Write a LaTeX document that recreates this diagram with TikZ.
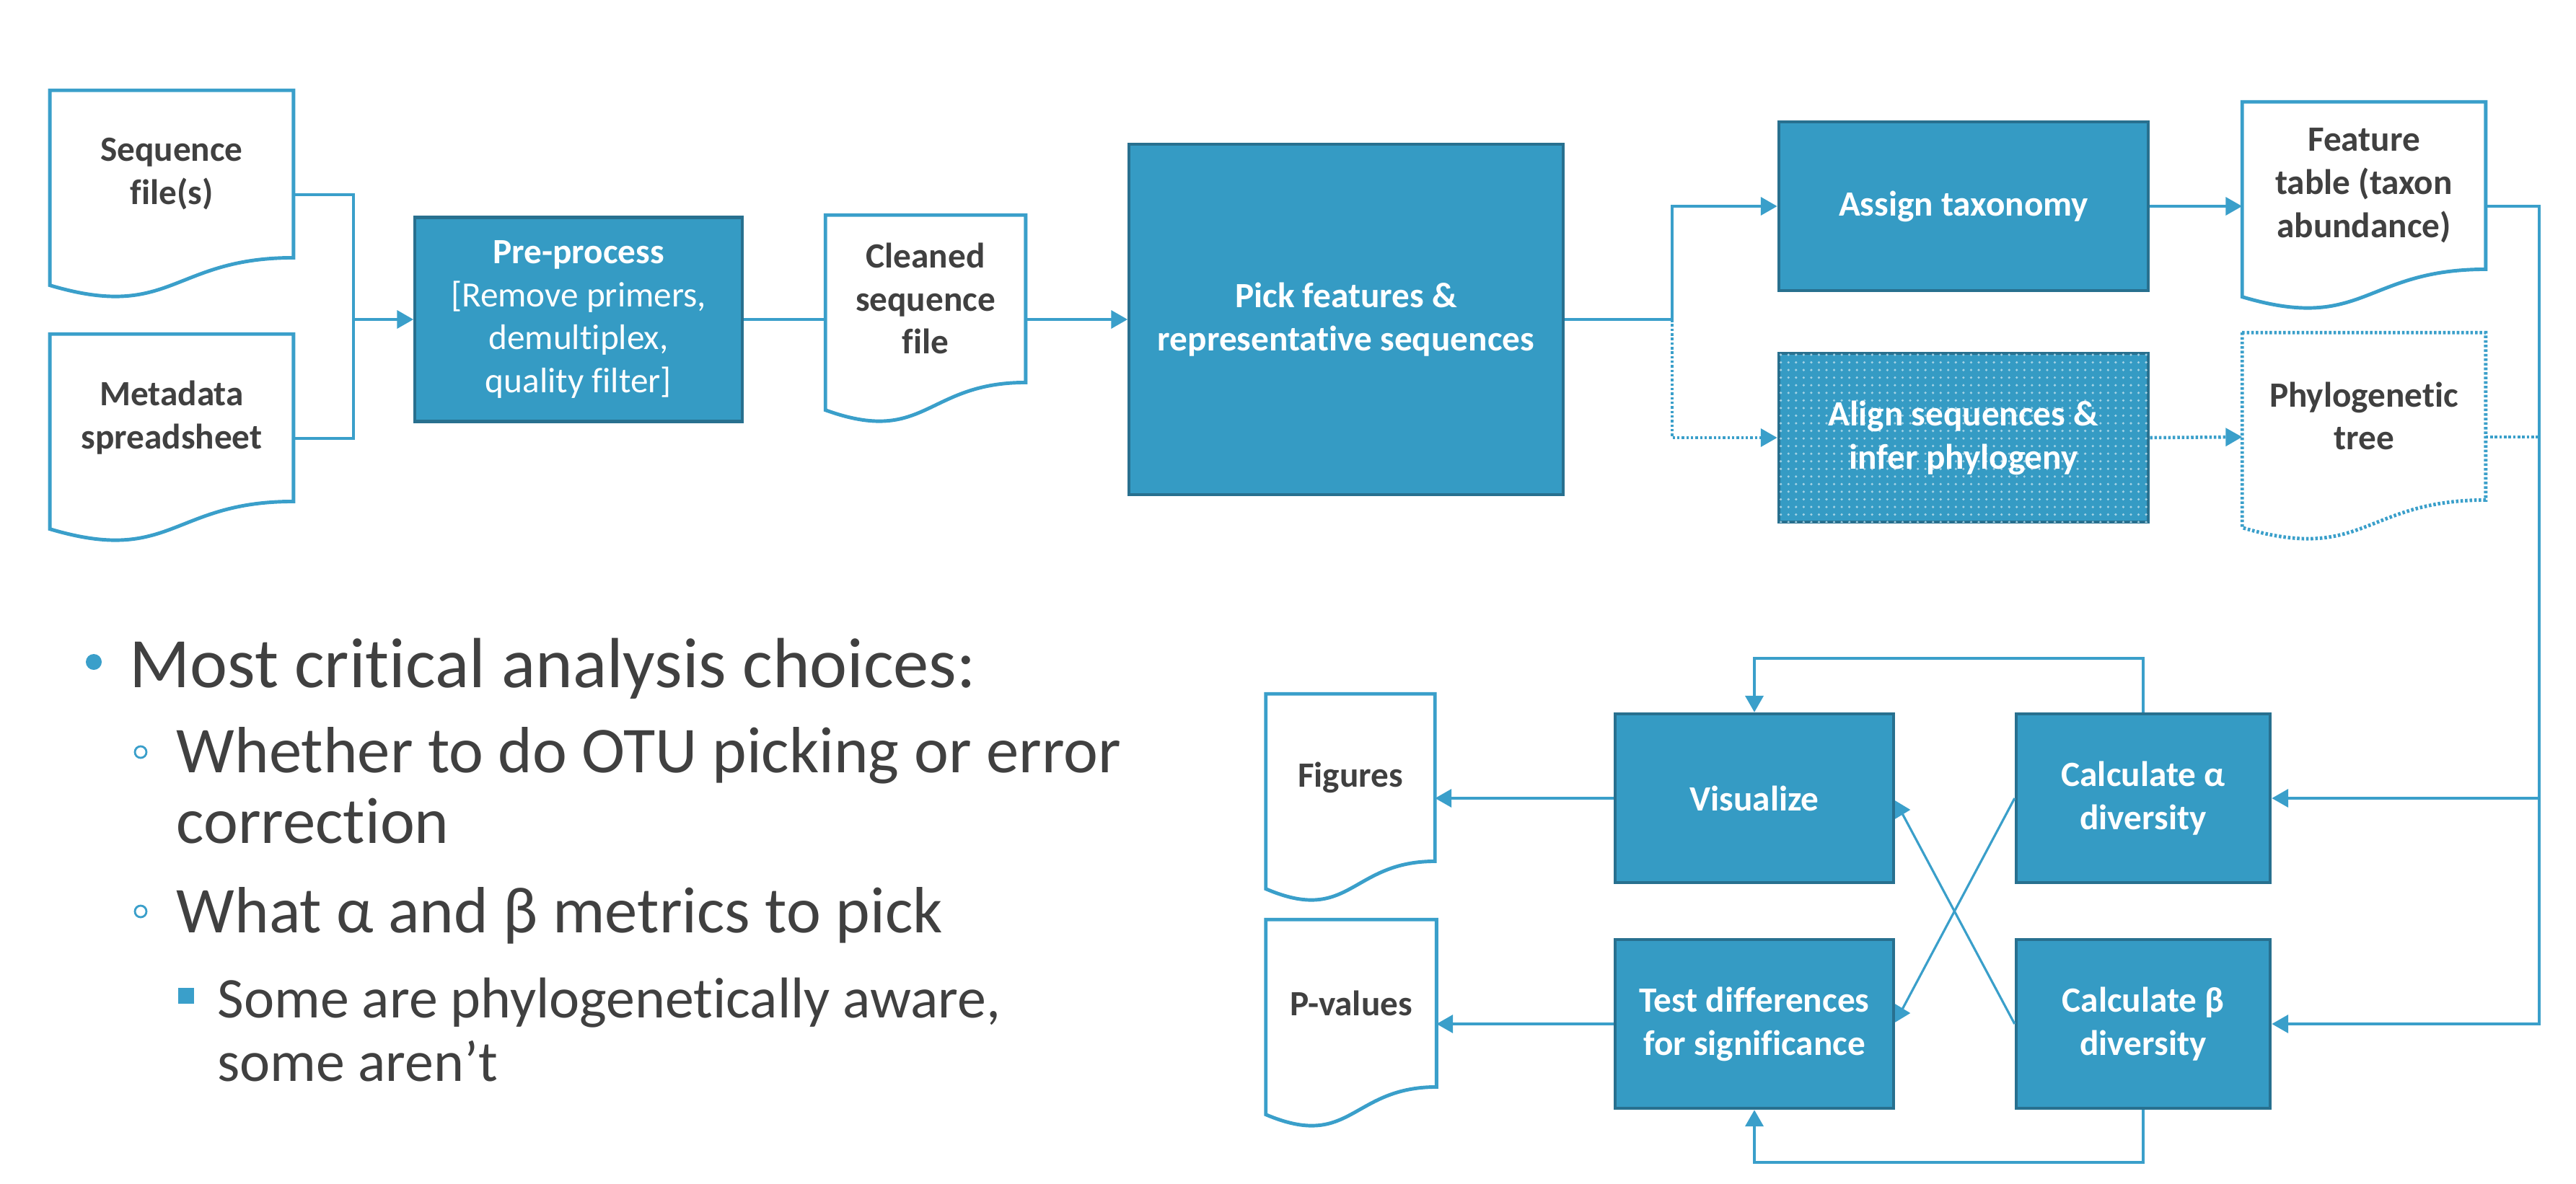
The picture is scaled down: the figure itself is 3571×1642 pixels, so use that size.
\documentclass[tikz,border=0pt]{standalone}
\usepackage{fontspec}
\setmainfont{Carlito}[Ligatures=NoCommon]
\usetikzlibrary{arrows.meta,calc,patterns}

\definecolor{procfill}{HTML}{359BC4}
\definecolor{procedge}{HTML}{28708F}
\definecolor{flowblue}{HTML}{3A9FCA}
\definecolor{inkgray}{HTML}{404040}

\tikzset{
  proc/.style={fill=procfill, draw=procedge, line width=1.2pt, text=white,
    font=\fontsize{14}{17}\selectfont\bfseries, align=center, inner sep=0pt,
    minimum height=2.34cm},
  doc/.style={minimum height=2.88cm, inner sep=0pt},
  doctext/.style={text=inkgray, font=\fontsize{14}{17}\selectfont\bfseries,
    align=center, yshift=0.29cm},
  docline/.style={draw=flowblue, line width=1.4pt},
  flow/.style={draw=flowblue, line width=1.3pt},
  tip/.style={-{Triangle[length=6.5pt,width=7pt]}},
  dotline/.style={dash pattern=on 1pt off 0.8pt},
  cross/.style={draw=flowblue, line width=0.9pt,
    -{Triangle[reversed,length=6pt,width=7pt]}},
  bullettext/.style={anchor=base west, inner sep=0pt, text=inkgray}
}

% document outline with a wavy foot
\newcommand\docedge[2][]{%
  \draw[docline,#1] let \p1=(#2.north west), \p2=(#2.south east) in
    (\x1,\y1) -- (\x2,\y1) -- (\x2,{\y1+0.802*(\y2-\y1)})
    .. controls ({(\x1+\x2)/2},{\y1+0.802*(\y2-\y1)})
    and ({(\x1+\x2)/2},{\y1+1.1075*(\y2-\y1)}) ..
    (\x1,{\y1+0.934*(\y2-\y1)}) -- cycle;}

\begin{document}
\begin{tikzpicture}[x=0.01cm,y=-0.01cm]
\useasboundingbox (0,0) rectangle (3571,1642);

% inputs
\node[doc, minimum width=3.36cm, label={[doctext]center:{Sequence\\file(s)}}] (seqfile) at (238,270) {};
\node[doc, minimum width=3.36cm, label={[doctext]center:{Metadata\\spreadsheet}}] (metadata) at (238,608) {};
\docedge{seqfile}
\docedge{metadata}

\node[proc, minimum width=4.53cm, minimum height=2.83cm] (prep) at (802,443)
  {Pre-process\\{\mdseries[Remove primers,}\\{\mdseries demultiplex,}\\{\mdseries quality filter]}};

\node[doc, minimum width=2.76cm, label={[doctext]center:{Cleaned\\sequence\\file}}] (cleaned) at (1283,443) {};
\docedge{cleaned}

\node[proc, minimum width=6.01cm, minimum height=4.86cm] (pick) at (1866,443)
  {Pick features \&\\representative sequences};

\node[proc, minimum width=5.12cm] (assign) at (2722,286) {Assign taxonomy};
\node[proc, minimum width=5.12cm, postaction={pattern=dots, pattern color=white!55!procfill}]
  (align) at (2722,607) {Align sequences \&\\infer phylogeny};

\node[doc, minimum width=3.36cm, label={[doctext]center:{Feature\\table (taxon\\abundance)}}] (feature) at (3277,286) {};
\node[doc, minimum width=3.36cm, label={[doctext]center:{Phylogenetic\\tree}}] (phylo) at (3277,606) {};
\docedge{feature}
\docedge[dotline]{phylo}

% analysis
\node[proc, minimum width=3.86cm] (visualize) at (2432,1107) {Visualize};
\node[proc, minimum width=3.52cm] (calca) at (2971,1107) {Calculate α\\diversity};
\node[proc, minimum width=3.86cm] (testdiff) at (2432,1420) {Test differences\\for significance};
\node[proc, minimum width=3.52cm] (calcb) at (2971,1420) {Calculate β\\diversity};

\node[doc, minimum width=2.33cm, label={[doctext]center:Figures}] (figures) at (1872,1107) {};
\node[doc, minimum width=2.35cm, label={[doctext]center:P-values}] (pvalues) at (1873,1420) {};
\docedge{figures}
\docedge{pvalues}

% connectors
\coordinate (merge) at (490,443);
\coordinate (fork) at (2318,443);
\coordinate (bus) at (3520,1420);

\draw[flow] (seqfile.east) -| (merge);
\draw[flow] (metadata.east) -| (merge);
\draw[flow,tip] (merge) -- (prep.west);
\draw[flow] (prep.east) -- (cleaned.west);
\draw[flow,tip] (cleaned.east) -- (pick.west);
\draw[flow,tip] (pick.east) -- (fork) |- (assign.west);
\draw[flow,dotline,tip] (fork) |- (align.west);
\draw[flow,tip] (assign.east) -- (feature.west);
\draw[flow,dotline,tip] (align.east) -- (phylo.west);

\draw[flow,tip] (feature.east) -| (bus) -- (calcb.east);
\draw[flow,tip] (bus |- calca.east) -- (calca.east);
\draw[flow,dotline] (phylo.east) -- (bus |- phylo.east);

\draw[flow,tip] (calca.north) -- ++(0,-75) -| (visualize.north);
\draw[flow,tip] (calcb.south) -- ++(0,73) -| (testdiff.south);
\draw[flow,tip] (visualize.west) -- (figures.east);
\draw[flow,tip] (testdiff.west) -- (pvalues.east);

\draw[cross] (calcb.west) -- ($(visualize.east)+(7,16)$) -- ($(visualize.east)+(0,16)$);
\draw[cross] (calca.west) -- ($(testdiff.east)+(7,-15)$) -- ($(testdiff.east)+(0,-15)$);

% bullet list
\node[circle, fill=flowblue, inner sep=0pt, minimum size=0.22cm] (dot1) at (130,918) {};
\node[circle, draw=flowblue, line width=0.8pt, inner sep=0pt, minimum size=0.16cm] (ring1) at (195,1043) {};
\node[circle, draw=flowblue, line width=0.8pt, inner sep=0pt, minimum size=0.16cm] (ring2) at (195,1264) {};
\node[fill=flowblue, inner sep=0pt, minimum size=0.22cm] (sq1) at (258,1381) {};

\node[bullettext, font=\fontsize{28}{34}\selectfont] (choices) at (179,953) {Most critical analysis choices:};
\node[bullettext, font=\fontsize{25.8}{31}\selectfont] (otu) at (244,1071) {Whether to do OTU picking or error};
\node[bullettext, font=\fontsize{25.8}{31}\selectfont] (otu2) at (244,1169) {correction};
\node[bullettext, font=\fontsize{25.8}{31}\selectfont] (metrics) at (244,1293) {What α and β metrics to pick};
\node[bullettext, font=\fontsize{22.7}{27}\selectfont] (aware) at (301,1411) {Some are phylogenetically aware,};
\node[bullettext, font=\fontsize{22.7}{27}\selectfont] (aware2) at (301,1499) {some aren’t};
\end{tikzpicture}
\end{document}
